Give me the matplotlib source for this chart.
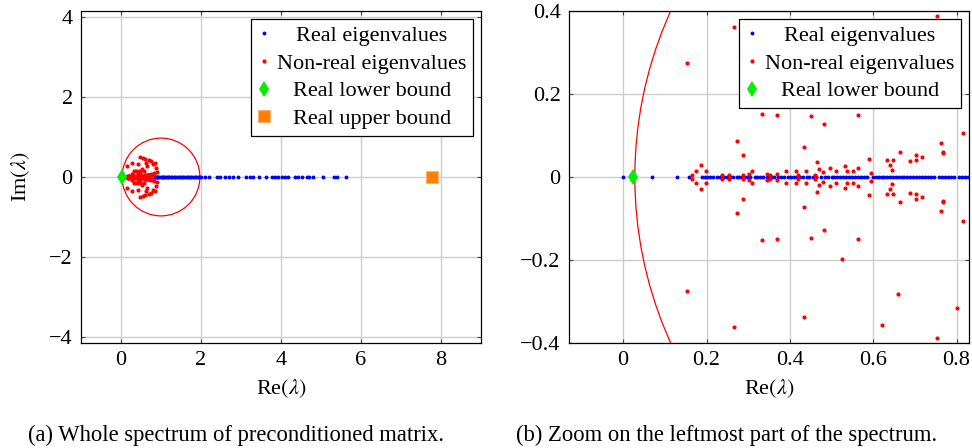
import matplotlib
matplotlib.use("Agg")
import matplotlib.pyplot as plt
from matplotlib.patches import Circle
from matplotlib.ticker import FuncFormatter
from matplotlib.transforms import Affine2D
import numpy as np

plt.rcParams['font.family'] = ['Liberation Serif', 'DejaVu Serif']
plt.rcParams['mathtext.fontset'] = 'stix'
plt.rcParams['font.size'] = 16

# real eigenvalues (all on the real axis)
real_eigs = [
    0.0, 0.07, 0.128, 0.158, 0.188, 0.196, 0.2, 0.208, 0.216, 0.224, 0.232,
    0.242, 0.248, 0.256, 0.264, 0.272, 0.278, 0.284, 0.29, 0.297, 0.305,
    0.316, 0.322, 0.329, 0.336, 0.344, 0.35, 0.356, 0.362, 0.372, 0.378,
    0.385, 0.395, 0.402, 0.41, 0.418, 0.425, 0.432, 0.44, 0.447, 0.455,
    0.462, 0.475, 0.485, 0.492, 0.5, 0.506, 0.514, 0.52, 0.527, 0.534,
    0.541, 0.548, 0.556, 0.563, 0.57, 0.577, 0.584, 0.6, 0.606, 0.613,
    0.62, 0.626, 0.633, 0.64, 0.647, 0.654, 0.661, 0.668, 0.675, 0.682,
    0.689, 0.696, 0.703, 0.71, 0.717, 0.724, 0.731, 0.738, 0.745, 0.758,
    0.765, 0.772, 0.779, 0.786, 0.793, 0.806, 0.813, 0.82, 0.827, 0.835,
    0.85, 0.87, 0.89, 0.91, 0.93, 0.96, 0.99, 1.02, 1.05, 1.08, 1.11, 1.14,
    1.17, 1.2, 1.24, 1.28, 1.32, 1.36, 1.4, 1.44, 1.48, 1.52, 1.56, 1.6,
    1.64, 1.68, 1.72, 1.76, 1.8, 1.84, 1.88, 1.92, 1.96, 2.0, 2.1, 2.21,
    2.41, 2.475, 2.6, 2.71, 2.81, 2.93, 3.125, 3.225, 3.31, 3.45, 3.625,
    3.77, 3.85, 3.93, 4.02, 4.1, 4.18, 4.35, 4.43, 4.52, 4.64, 4.71, 4.81,
    5.06, 5.33, 5.39, 5.62,
]

# non-real eigenvalues, upper half plane (conjugates are plotted too)
cplx_re = [
    0.152, 0.267, 0.274, 0.288, 0.333, 0.369, 0.435, 0.450, 0.482, 0.524,
    0.564, 0.621, 0.660, 0.754, 0.762, 0.767, 0.802, 0.816, 0.435, 0.665,
    0.186, 0.175, 0.198, 0.166, 0.236, 0.254, 0.288, 0.302, 0.309, 0.344,
    0.352, 0.368, 0.390, 0.415, 0.420, 0.438, 0.466, 0.470, 0.460, 0.480,
    0.496, 0.510, 0.532, 0.536, 0.552, 0.564, 0.590, 0.594, 0.632, 0.640,
    0.645, 0.648, 0.688, 0.702, 0.702, 0.718, 0.768,
    0.47, 0.54, 0.61, 0.70, 0.86, 0.88, 0.90,
]
cplx_im = [
    0.274, 0.362, 0.086, 0.053, 0.152, 0.149, 0.073, 0.147, 0.128, 0.198,
    0.149, 0.357, 0.281, 0.388, 0.082, 0.059, 0.316, 0.106, 0.337, 0.060,
    0.030, 0.0135, 0.0135, 0.0055, 0.005, 0.005, 0.005, 0.008, 0.014, 0.008,
    0.005, 0.008, 0.014, 0.014, 0.005, 0.014, 0.036, 0.020, 0.005, 0.011,
    0.022, 0.014, 0.027, 0.014, 0.014, 0.022, 0.044, 0.010, 0.040, 0.028,
    0.018, 0.041, 0.038, 0.053, 0.041, 0.047, 0.060,
    0.50, 0.47, 0.45, 0.43, 0.34, 0.22, 0.12,
]

lower_bound = 0.023
upper_bound = 7.78
circle_center = 1.0
circle_radius = 0.972

left_xticks = [0, 2, 4, 6, 8]
left_yticks = [-4, -2, 0, 2, 4]
right_xticks = [0, 0.2, 0.4, 0.6, 0.8]
right_yticks = [-0.4, -0.2, 0, 0.2, 0.4]


def fmt(v, pos):
    return ('%g' % v).replace('-', '\u2212')


def draw_panel(ax, show_upper):
    ax.add_patch(Circle((circle_center, 0), circle_radius, fill=False,
                        edgecolor='red', linewidth=0.9, zorder=2))
    re = np.array(real_eigs)
    ax.plot(re, np.zeros_like(re), 'o', color='blue', markersize=2.8,
            markeredgewidth=0, linestyle='none', zorder=3,
            label='Real eigenvalues')
    cr = np.array(cplx_re)
    ci = np.array(cplx_im)
    ax.plot(np.concatenate([cr, cr]), np.concatenate([ci, -ci]), 'o',
            color='red', markersize=3.0, markeredgewidth=0, linestyle='none',
            zorder=4, label='Non-real eigenvalues')
    ax.plot([lower_bound], [0], 'd', color='#00ee00', markersize=8.5,
            markeredgewidth=0, linestyle='none', zorder=5,
            label='Real lower bound')
    if show_upper:
        ax.plot([upper_bound], [0], 's', color='#ff7f00', markersize=8,
                markeredgecolor='#ffb070', markeredgewidth=0.8,
                linestyle='none', zorder=5, label='Real upper bound')
    ax.grid(True, color='#cccccc', linewidth=1.0)
    ax.set_axisbelow(True)
    ax.tick_params(direction='in', top=True, right=True, length=3,
                   color='#444444', pad=6)
    ax.xaxis.set_major_formatter(FuncFormatter(fmt))
    ax.yaxis.set_major_formatter(FuncFormatter(fmt))
    for s in ax.spines.values():
        s.set_linewidth(0.9)
    ax.set_xlabel(r'Re$(\lambda)$', labelpad=5)
    leg = ax.legend(loc='upper right', fancybox=False, framealpha=1,
                    edgecolor='black', borderaxespad=0.35, labelspacing=0.32,
                    handlelength=0.6, handletextpad=0.3, borderpad=0.3,
                    markerscale=1.0)
    leg.get_frame().set_linewidth(0.9)
    leg.set_zorder(10)
    return leg


fig = plt.figure(figsize=(9.72, 4.48), dpi=100)
ax1 = fig.add_axes([81 / 972, 105 / 448, 400 / 972, 332 / 448])
ax2 = fig.add_axes([569 / 972, 105 / 448, 400 / 972, 332 / 448])

leg1 = draw_panel(ax1, True)
ax1.set_xlim(-1, 9)
ax1.set_ylim(-4.15, 4.15)
ax1.set_xticks(left_xticks)
ax1.set_yticks(left_yticks)
ax1.set_ylabel(r'Im$(\lambda)$', labelpad=12)

leg2 = draw_panel(ax2, False)
ax2.set_xlim(-0.13, 0.83)
ax2.set_ylim(-0.4, 0.4)
ax2.set_xticks(right_xticks)
ax2.set_yticks(right_yticks)

fig.text(236 / 972, 1 - 435 / 448,
         '(a) Whole spectrum of preconditioned matrix.',
         ha='center', va='center', fontsize=16.3)
fig.text(727 / 972, 1 - 435 / 448,
         '(b) Zoom on the leftmost part of the spectrum.',
         ha='center', va='center', fontsize=16.3)

# centre the legend entries like pgfplots does
fig.canvas.draw()
renderer = fig.canvas.get_renderer()
for leg in (leg1, leg2):
    texts = leg.get_texts()
    widths = [t.get_window_extent(renderer).width for t in texts]
    wmax = max(widths)
    for t, w in zip(texts, widths):
        t.set_transform(t.get_transform() + Affine2D().translate((wmax - w) / 2, 0))

fig.savefig('out.png', dpi=100)
